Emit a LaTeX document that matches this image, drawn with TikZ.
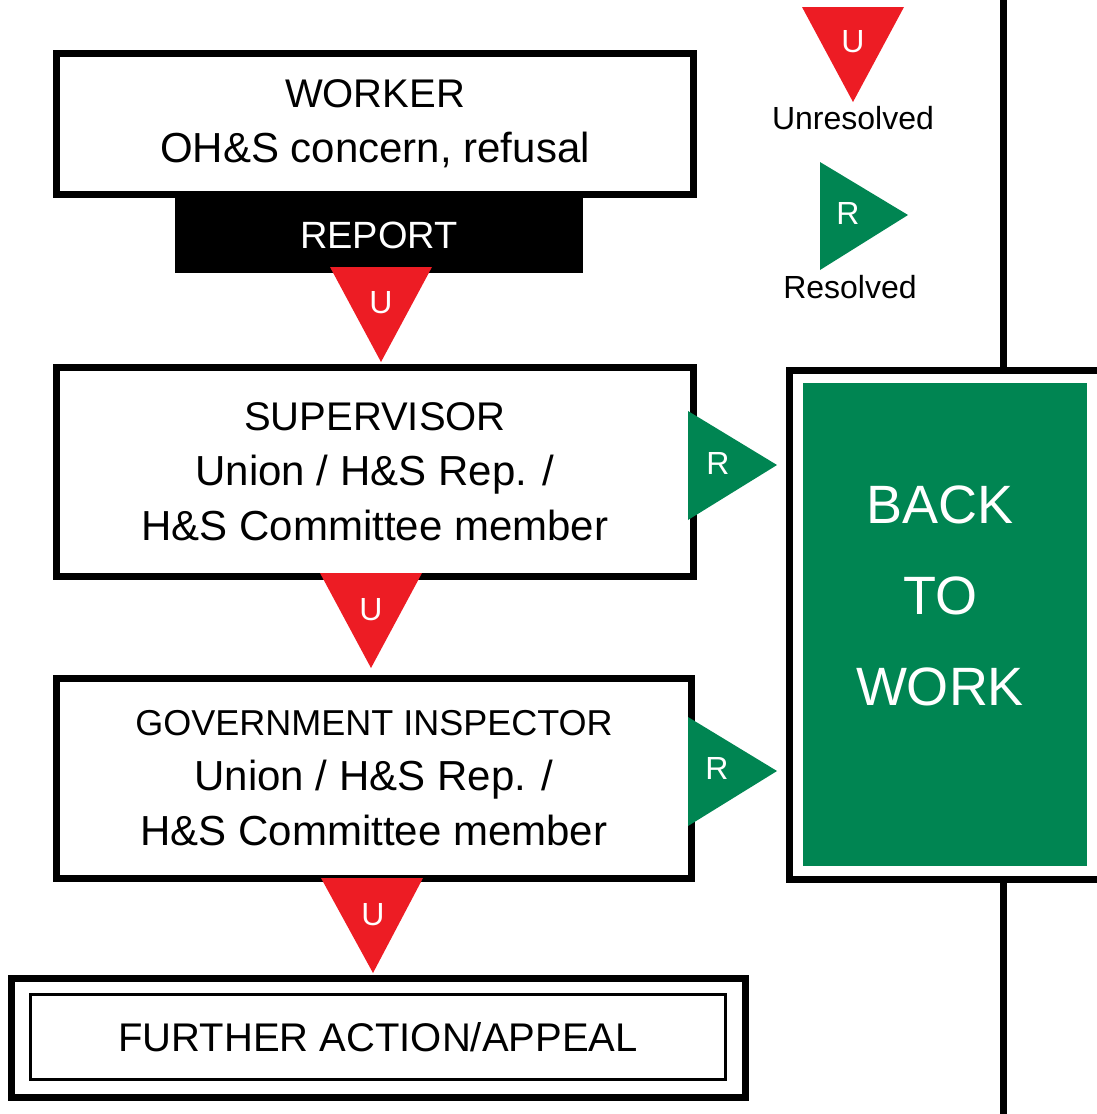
\documentclass[tikz,border=0pt]{standalone}
\usepackage{fontspec}
\setmainfont{Liberation Sans}
\definecolor{unresred}{RGB}{237,28,36}
\definecolor{resgreen}{RGB}{0,133,82}

\begin{document}
\begin{tikzpicture}[x=0.5pt, y=-0.5pt,
	stepbox/.style={draw, line width=3.5pt, align=center, inner sep=0pt},
	bodyfont/.style={font=\fontsize{21}{27.5}\selectfont},
	rail/.style={line width=3.5pt},
	utri/.style={fill=unresred},
	rtri/.style={fill=resgreen},
	triletter/.style={text=white, inner sep=0pt, font=\fontsize{16}{18}\selectfont},
	legendtext/.style={inner sep=0pt, font=\fontsize{16}{18}\selectfont}]
	\clip (0,0) rectangle (1097,1114);

	\node [stepbox, bodyfont, minimum width=318.5pt, minimum height=70.5pt] (worker) at (375,124)
		{{\fontsize{20}{27.5}\selectfont WORKER} \\ OH\&S concern, refusal};
	\node [fill=black, text=white, inner sep=0pt, minimum width=204pt, minimum height=37.5pt,
		font=\fontsize{19}{22}\selectfont] (report) at (379,235.5) {REPORT};
	\node [stepbox, bodyfont, minimum width=318.5pt, minimum height=104.5pt] (sup) at (375,472)
		{{\fontsize{20}{27}\selectfont SUPERVISOR} \\ Union / H\&S Rep. / \\ H\&S Committee member};
	\node [stepbox, bodyfont, minimum width=317.5pt, minimum height=100pt] (gov) at (374,778.5)
		{{\fontsize{18}{27}\selectfont GOVERNMENT INSPECTOR} \\ Union / H\&S Rep. / \\ H\&S Committee member};
	\node [stepbox, minimum width=367pt, minimum height=59.5pt] (further) at (378.5,1038) {};
	\node [draw, line width=1.5pt, inner sep=0pt, minimum width=347.5pt, minimum height=42.5pt,
		font=\fontsize{20}{24}\selectfont] (appeal) at (378,1037) {FURTHER ACTION/APPEAL};

	\node [stepbox, minimum width=213.5pt, minimum height=254.5pt] (back) at (1003,625) {};
	\node [fill=resgreen, inner sep=0pt, minimum width=142pt, minimum height=241.5pt] (bw) at (945,624.5) {};
	\node [text=white, align=center, font=\fontsize{27}{45.5}\selectfont] (bwtext) at (940,596) {BACK \\ TO \\ WORK};

	\coordinate (railtop) at (1003,0);
	\coordinate (railbot) at (1003,1114);
	\draw [rail] (railtop) -- (back.north);
	\draw [rail] (back.south) -- (railbot);

	\fill [utri] (330,267) -- (432,267) -- (381,362) -- cycle;
	\node [triletter] (u1) at (381,303) {U};
	\fill [utri] (320,573) -- (422,573) -- (371,668) -- cycle;
	\node [triletter] (u2) at (371,610) {U};
	\fill [utri] (321,878) -- (423,878) -- (373,973) -- cycle;
	\node [triletter] (u3) at (373,915) {U};

	\fill [rtri] (688,411) -- (688,520) -- (777,465) -- cycle;
	\node [triletter] (r1) at (718,463) {R};
	\fill [rtri] (688,717) -- (688,826) -- (777,771) -- cycle;
	\node [triletter] (r2) at (717,768) {R};

	\fill [utri] (802,7) -- (904,7) -- (853,102) -- cycle;
	\node [triletter] (ukey) at (853,42) {U};
	\node [legendtext] (unres) at (853,118) {Unresolved};
	\fill [rtri] (820,162) -- (820,270) -- (908,215) -- cycle;
	\node [triletter] (rkey) at (848,213) {R};
	\node [legendtext] (res) at (850,287) {Resolved};
\end{tikzpicture}
\end{document}
